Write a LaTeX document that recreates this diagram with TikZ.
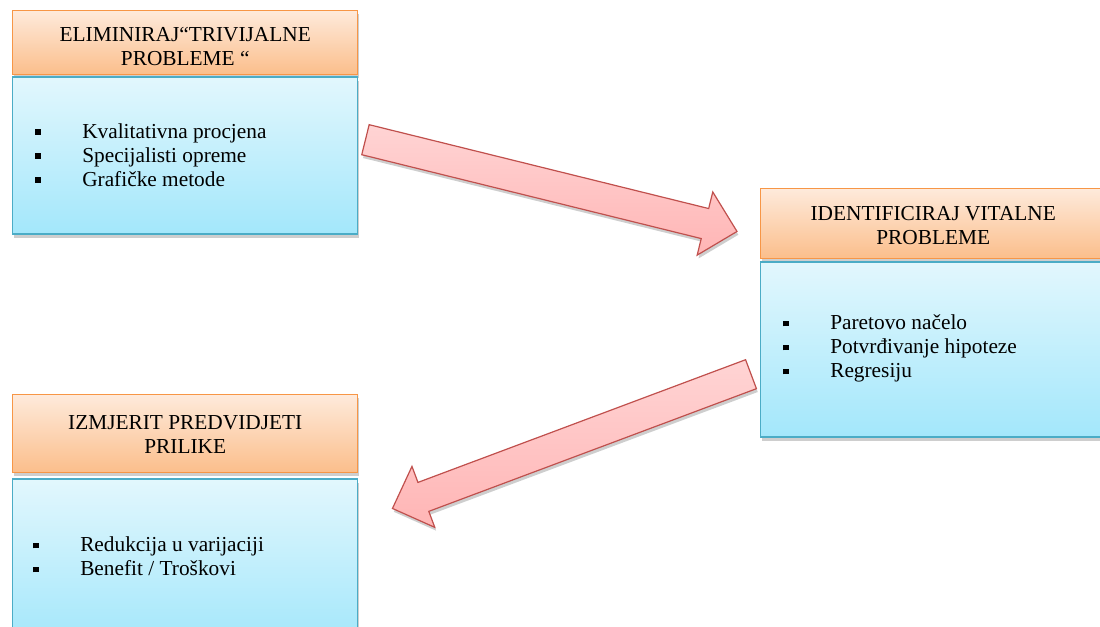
\documentclass[tikz,border=0pt]{standalone}
\usepackage{fontspec}
\setmainfont{Liberation Serif}
\usepackage{tikz}
\usetikzlibrary{calc, shadows, positioning}
\definecolor{hdrtop}{HTML}{FEEADB}
\definecolor{hdrbot}{HTML}{FBBE8B}
\definecolor{hdrline}{HTML}{F79646}
\definecolor{bodytop}{HTML}{E2F7FD}
\definecolor{bodybot}{HTML}{A3E7FB}
\definecolor{bodyline}{HTML}{4BACC6}
\definecolor{arrtop}{HTML}{FFD4D4}
\definecolor{arrbot}{HTML}{FFB5B5}
\definecolor{arrline}{HTML}{C0504D}
\tikzset{
    boxshadow/.style = {drop shadow={shadow xshift=1pt, shadow yshift=-2.5pt, opacity=0.35, fill=black!55}},% soft shadow under every shape
    hdr/.style ={rectangle, draw=hdrline, line width=1.1pt, top color=hdrtop, bottom color=hdrbot, minimum width=258.75pt, inner sep=0pt, boxshadow},% orange title box
    body/.style = {rectangle, draw=bodyline, line width=1.1pt, top color=bodytop, bottom color=bodybot, minimum width=258.75pt, inner sep=0pt, boxshadow},% blue list box
    title/.style = {align=center, anchor=base, inner sep=0pt, font=\fontsize{16}{18}\selectfont},% base = last line
    item/.style = {anchor=base west, inner sep=0pt, font=\fontsize{16}{18}\selectfont},
    arrowbody/.style = {draw=arrline, line width=0.9pt, line join=miter, top color=arrtop, bottom color=arrbot, boxshadow}
}
\newcommand{\sqbullet}{\makebox[35.25pt][l]{\raisebox{2.4pt}{\rule{4.3pt}{4.3pt}}}}
\newcommand{\bigarrow}[2]{% tail, tip
    \coordinate (hb) at ($(#2)!24.75pt!(#1)$);
    \draw[arrowbody] ($(#1)!11.6pt!90:(#2)$) -- ($(hb)!11.6pt!90:(#2)$) -- ($(hb)!24.4pt!90:(#2)$)
        -- (#2) -- ($(hb)!24.4pt!-90:(#2)$) -- ($(hb)!11.6pt!-90:(#2)$) -- ($(#1)!11.6pt!-90:(#2)$) -- cycle;
}

\begin{document}
\begin{tikzpicture}[x=0.75pt, y=-0.75pt]
    \useasboundingbox (0,0) rectangle (1100,627);
    % boxes
    \node [hdr, minimum height=48pt, anchor=north west] (h1) at (12,10) {};
    \node [body, minimum height=117.75pt, below=0.75pt of h1.south west, anchor=north west] (b1) {};
    \node [hdr, minimum height=52.5pt, anchor=north west] (h2) at (760,188) {};
    \node [body, minimum height=131.25pt, below=1.5pt of h2.south west, anchor=north west] (b2) {};
    \node [hdr, minimum height=58.5pt, anchor=north west] (h3) at (12,394) {};
    \node [body, minimum height=123.75pt, below=3.75pt of h3.south west, anchor=north west] (b3) {};
    % titles
    \node [title] (t1) at ($(h1.north)+(0,55.7)$) {ELIMINIRAJ“TRIVIJALNE\\PROBLEME “};
    \node [title] (t2) at ($(h2.north)+(0,57)$) {IDENTIFICIRAJ VITALNE\\PROBLEME};
    \node [title] (t3) at ($(h3.north)+(0,59.5)$) {IZMJERIT PREDVIDJETI\\PRILIKE};
    % lists
    \foreach \txt [count=\i] in {Kvalitativna procjena, Specijalisti opreme, Grafičke metode}
        \node [item] (l1\i) at ($(b1.north west)+(23,37.7+24*\i)$) {\sqbullet\txt};
    \foreach \txt [count=\i] in {Paretovo načelo, Potvrđivanje hipoteze, Regresiju}
        \node [item] (l2\i) at ($(b2.north west)+(23,44+24*\i)$) {\sqbullet\txt};
    \foreach \txt [count=\i] in {Redukcija u varijaciji, Benefit / Troškovi}
        \node [item] (l3\i) at ($(b3.north west)+(21,49+24*\i)$) {\sqbullet\txt};
    % arrows
    \coordinate (a1s) at ($(b1.east)+(7,-16)$);
    \coordinate (a1e) at ($(h2.south west)+(-23,-28)$);
    \coordinate (a2s) at ($(b2.west)+(-9,24.5)$);
    \coordinate (a2e) at ($(b3.north east)+(34,30)$);
    \bigarrow{a1s}{a1e}
    \bigarrow{a2s}{a2e}
\end{tikzpicture}
\end{document}
